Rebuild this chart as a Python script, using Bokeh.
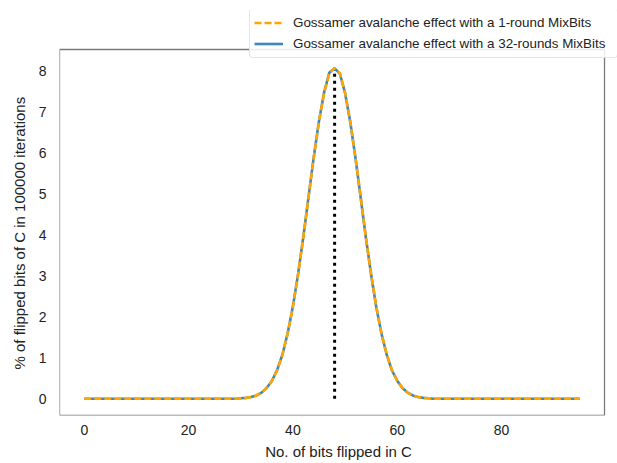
from bokeh.plotting import figure
from bokeh.models import (Range1d, Legend, LegendItem, FixedTicker, ColumnDataSource,
                          BoxAnnotation, Title)
from bokeh.embed import file_html
from bokeh.resources import INLINE

bits = list(range(96))
one_round = [0.0] * 30 + [
    0.01, 0.02, 0.04, 0.08, 0.15, 0.26, 0.44, 0.70, 1.08, 1.59,
    2.24, 3.04, 3.94, 4.92, 5.89, 6.77, 7.48, 7.95, 8.08, 7.95,
    7.48, 6.77, 5.89, 4.92, 3.94, 3.04, 2.24, 1.59, 1.08, 0.70,
    0.44, 0.26, 0.15, 0.08, 0.04, 0.02, 0.01,
] + [0.0] * 29
rounds_32 = [0.0] * 30 + [
    0.01, 0.02, 0.04, 0.08, 0.15, 0.27, 0.44, 0.71, 1.08, 1.60,
    2.25, 3.05, 3.95, 4.93, 5.90, 6.78, 7.49, 7.97, 8.07, 7.94,
    7.47, 6.76, 5.88, 4.91, 3.93, 3.03, 2.23, 1.58, 1.07, 0.69,
    0.44, 0.26, 0.15, 0.08, 0.04, 0.02, 0.01,
] + [0.0] * 29
mean_bits = 48
mean_top = 8.0
x_ticks = [0, 20, 40, 60, 80]
y_ticks = [0, 1, 2, 3, 4, 5, 6, 7, 8]
label_1 = "Gossamer avalanche effect with a 1-round MixBits"
label_32 = "Gossamer avalanche effect with a 32-rounds MixBits"
x_title = "No. of bits flipped in C"
y_title = "% of flipped bits of C in 100000 iterations"

# axes box (data limits) and the extended canvas that also holds the legend
x_lo, x_hi = -4.75, 99.75
y_lo, y_hi = -0.41, 8.53

src = ColumnDataSource(dict(x=bits, a=one_round, b=rounds_32))

p = figure(width=617, height=463, output_backend="svg", toolbar_location=None,
           x_range=Range1d(x_lo, 102.24), y_range=Range1d(y_lo, 9.483),
           min_border_left=59, min_border_top=10, min_border_right=0,
           min_border_bottom=48)
p.background_fill_color = "white"
p.border_fill_color = "white"
p.outline_line_color = None
p.xgrid.visible = False
p.ygrid.visible = False

for ax in (p.xaxis[0], p.yaxis[0]):
    ax.axis_line_color = None
    ax.major_tick_line_color = None
    ax.minor_tick_line_color = None
    ax.major_tick_out = 0
    ax.major_tick_in = 0
    ax.minor_tick_out = 0
    ax.minor_tick_in = 0
    ax.major_label_text_font = "Liberation Sans"
    ax.major_label_text_font_size = "14px"
    ax.major_label_text_color = "#222222"
    ax.axis_label_text_font = "Liberation Sans"
    ax.axis_label_text_font_size = "15px"
    ax.axis_label_text_font_style = "normal"
    ax.axis_label_text_color = "#222222"

p.xaxis.ticker = FixedTicker(ticks=x_ticks)
p.yaxis.ticker = FixedTicker(ticks=y_ticks)
p.xaxis.major_label_standoff = 9
p.yaxis.major_label_standoff = 13
p.xaxis.axis_label_standoff = 5
p.xaxis.axis_label = x_title

ytitle = Title(text=y_title, align="left", offset=46, standoff=12,
               vertical_align="top", text_font="Liberation Sans",
               text_font_size="15px", text_font_style="normal",
               text_color="#222222")
p.add_layout(ytitle, "left")

box = BoxAnnotation(left=x_lo, right=x_hi, bottom=y_lo, top=y_hi,
                    fill_color=None, fill_alpha=0, line_color="#7a7a7a",
                    line_alpha=1.0, line_width=1.3, level="underlay")
p.add_layout(box)

r32 = p.line("x", "b", source=src, line_color="#3a87c6", line_width=2.6)
r1 = p.line("x", "a", source=src, line_color="#ffa500", line_width=2.6,
            line_dash="7 3")
p.segment(x0=[mean_bits], y0=[0], x1=[mean_bits], y1=[mean_top],
          line_color="black", line_width=3, line_dash="3 4")

legend = Legend(items=[LegendItem(label=label_1, renderers=[r1]),
                       LegendItem(label=label_32, renderers=[r32])],
                location=(190, 357))
legend.label_text_font = "Liberation Sans"
legend.label_text_font_size = "13.4px"
legend.label_text_color = "#222222"
legend.glyph_width = 29
legend.glyph_height = 19
legend.label_height = 19
legend.label_width = 320
legend.label_standoff = 10
legend.spacing = 2
legend.padding = 4
legend.margin = 0
legend.border_line_color = "#cccccc"
legend.border_line_width = 1
legend.border_radius = 4
legend.background_fill_alpha = 0.85
p.add_layout(legend, "center")

open("out.html", "w").write(file_html(p, INLINE))
